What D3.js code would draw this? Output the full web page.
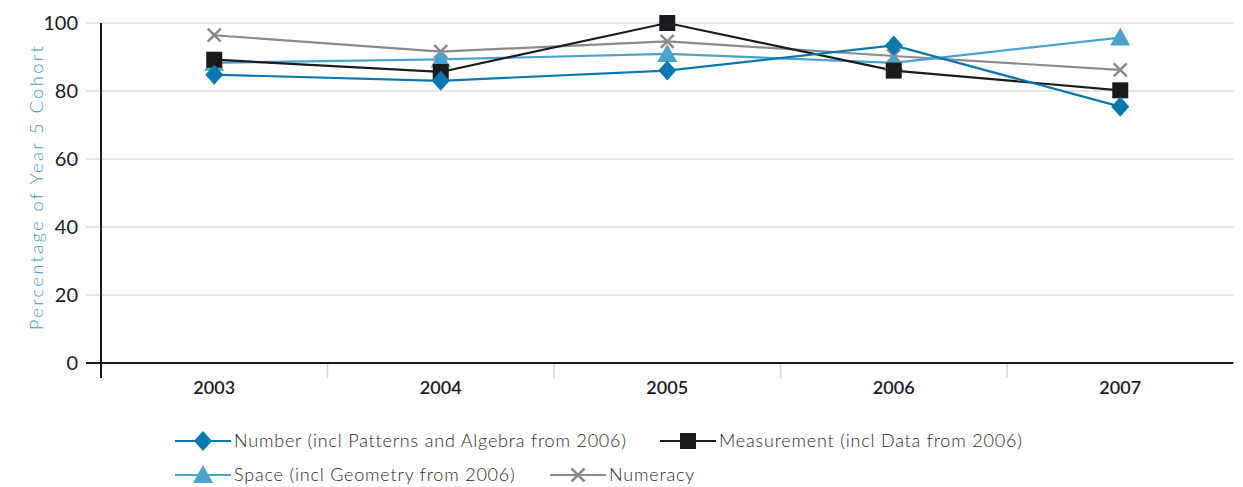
<!DOCTYPE html>
<html>
<head>
<meta charset="utf-8">
<script src="https://cdn.jsdelivr.net/npm/d3@7"></script>
<style>
  body { margin: 0; background: #fff; }
  svg { display: block; font-family: Lato, "Open Sans", sans-serif; }
</style>
</head>
<body>
<svg id="chart" width="1243" height="487"></svg>
<script>
// Year 5 numeracy results, percentage of cohort by strand
const years = ["2003", "2004", "2005", "2006", "2007"];
const numberVals = [84.8, 83.0, 86.0, 93.4, 75.4];
const measurementVals = [89.2, 85.6, 100.0, 86.0, 80.2];
const spaceVals = [88.3, 89.3, 90.9, 88.3, 95.7];
const numeracyVals = [96.4, 91.6, 94.6, 90.3, 86.2];
const yTicks = [0, 20, 40, 60, 80, 100];

const seriesNames = [
  "Number (incl Patterns and Algebra from 2006)",
  "Measurement (incl Data from 2006)",
  "Space (incl Geometry from 2006)",
  "Numeracy"
];

const series = [
  { name: seriesNames[0], values: numberVals, color: "#0a78b0", symbol: "diamond" },
  { name: seriesNames[1], values: measurementVals, color: "#1b1a1f", symbol: "square" },
  { name: seriesNames[2], values: spaceVals, color: "#4aa2cd", symbol: "triangle" },
  { name: seriesNames[3], values: numeracyVals, color: "#8a8a8c", symbol: "cross" }
];

const svg = d3.select("#chart");
const left = 101, right = 1233.5;
const x = d3.scaleBand().domain(years).range([left, right]);
const y = d3.scaleLinear().domain([0, 100]).range([363, 23]);

// gridlines
svg.append("g").selectAll("line")
  .data(yTicks.filter(d => d > 0))
  .join("line")
  .attr("x1", 86).attr("x2", right)
  .attr("y1", d => y(d)).attr("y2", d => y(d))
  .attr("stroke", "#dcdcdc").attr("stroke-width", 1.5);

// category separators below the baseline
svg.append("g").selectAll("line")
  .data(years.slice(1))
  .join("line")
  .attr("x1", d => x(d)).attr("x2", d => x(d))
  .attr("y1", y(0)).attr("y2", y(0) + 15)
  .attr("stroke", "#d6d6d6").attr("stroke-width", 1.5);

// baseline and vertical axis
svg.append("line")
  .attr("x1", 86).attr("x2", right)
  .attr("y1", y(0)).attr("y2", y(0))
  .attr("stroke", "#1b1a1f").attr("stroke-width", 2);
svg.append("line")
  .attr("x1", left).attr("x2", left)
  .attr("y1", y(100)).attr("y2", y(0) + 15)
  .attr("stroke", "#1b1a1f").attr("stroke-width", 2);

// y tick labels
svg.append("g").selectAll("text")
  .data(yTicks)
  .join("text")
  .attr("x", 78).attr("y", d => y(d))
  .attr("dy", "0.35em")
  .attr("text-anchor", "end")
  .attr("font-size", 20)
  .attr("fill", "#1b1a1f")
  .text(d => d);

// x tick labels
svg.append("g").selectAll("text")
  .data(years)
  .join("text")
  .attr("x", d => x(d) + x.bandwidth() / 2)
  .attr("y", 394)
  .attr("text-anchor", "middle")
  .attr("font-size", 18)
  .attr("font-weight", 600)
  .attr("fill", "#1b1a1f")
  .text(d => d);

// y axis title
svg.append("text")
  .attr("transform", "translate(43, 187) rotate(-90)")
  .attr("text-anchor", "middle")
  .attr("font-size", 18.5)
  .attr("font-weight", 300)
  .attr("letter-spacing", 2.3)
  .attr("fill", "#3d9dc9")
  .text("Percentage of Year 5 Cohort");

function drawSymbol(g, kind, color) {
  if (kind === "diamond") {
    g.append("path").attr("d", "M0,-10L9,0L0,10L-9,0Z").attr("fill", color);
  } else if (kind === "square") {
    g.append("rect").attr("x", -8).attr("y", -8).attr("width", 16).attr("height", 16).attr("fill", color);
  } else if (kind === "triangle") {
    g.append("path").attr("d", "M0,-10L10,8L-10,8Z").attr("fill", color);
  } else {
    g.append("path").attr("d", "M-6.5,-6.5L6.5,6.5M-6.5,6.5L6.5,-6.5")
      .attr("stroke", color).attr("stroke-width", 2.5).attr("fill", "none");
  }
}

const line = d3.line()
  .x((d, i) => x(years[i]) + x.bandwidth() / 2)
  .y(d => y(d));

// lines, then markers (numeracy drawn first so others sit on top)
const order = [3, 2, 1, 0];
order.forEach(k => {
  const s = series[k];
  svg.append("path")
    .datum(s.values)
    .attr("d", line)
    .attr("fill", "none")
    .attr("stroke", s.color)
    .attr("stroke-width", 2.2);
});
order.forEach(k => {
  const s = series[k];
  s.values.forEach((v, i) => {
    const g = svg.append("g")
      .attr("transform", `translate(${x(years[i]) + x.bandwidth() / 2},${y(v)})`);
    drawSymbol(g, s.symbol, s.color);
  });
});

// legend
const legendPos = [
  { x: 175, y: 441 },
  { x: 660, y: 441 },
  { x: 175, y: 475 },
  { x: 550, y: 475 }
];
series.forEach((s, k) => {
  const p = legendPos[k];
  const g = svg.append("g").attr("transform", `translate(${p.x},${p.y})`);
  g.append("line").attr("x1", 0).attr("x2", 56).attr("y1", 0).attr("y2", 0)
    .attr("stroke", s.color).attr("stroke-width", 2.2);
  const m = g.append("g").attr("transform", "translate(28,0)");
  drawSymbol(m, s.symbol, s.color);
  g.append("text")
    .attr("x", 59).attr("y", 0).attr("dy", "0.35em")
    .attr("font-size", 18)
    .attr("font-weight", 300)
    .attr("letter-spacing", 0.8)
    .attr("fill", "#2a2a2a")
    .text(s.name);
});
</script>
</body>
</html>
